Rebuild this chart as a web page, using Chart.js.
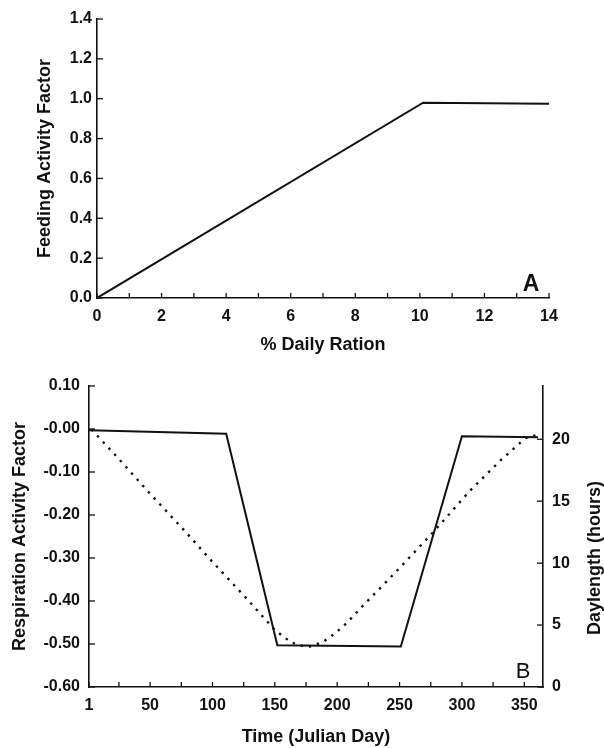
<!DOCTYPE html>
<html>
<head>
<meta charset="utf-8">
<script src="https://cdn.jsdelivr.net/npm/chart.js@4.4.1/dist/chart.umd.min.js"></script>
<style>
  html, body { margin: 0; padding: 0; background: #fff; }
  .panel { position: absolute; left: 0; width: 604px; }
  #panelA { top: 0; height: 360px; }
  #panelB { top: 360px; height: 388px; }
</style>
</head>
<body>
<div class="panel" id="panelA"><canvas id="feedChart"></canvas></div>
<div class="panel" id="panelB"><canvas id="respChart"></canvas></div>
<script>
// panel A: feeding activity vs ration
const rationPct = [0, 10.1, 14];
const feedingFactor = [0, 0.98, 0.975];
const rationTicks = [0, 1, 2, 3, 4, 5, 6, 7, 8, 9, 10, 11, 12, 13, 14];
const feedTicks = [0, 0.2, 0.4, 0.6, 0.8, 1.0, 1.2, 1.4];

// panel B: respiration activity + daylength over the year
const respDays = [1, 111, 152, 251, 300, 361];
const respFactor = [-0.003, -0.011, -0.503, -0.506, -0.017, -0.019];
const dayLenDays = [3, 25, 50, 75, 100, 125, 150, 163, 176, 188, 198, 208, 220, 250, 277, 306, 331, 351, 362];
const dayLenHours = [20.8, 18.4, 15.6, 12.9, 10.1, 7.4, 4.6, 3.6, 3.2, 3.6, 4.3, 5.2, 6.5, 9.6, 12.5, 15.8, 18.3, 20.1, 20.4];
const dayTicks = [1, 25, 50, 75, 100, 125, 150, 175, 200, 225, 250, 275, 300, 325, 350];
const respTicks = [-0.6, -0.5, -0.4, -0.3, -0.2, -0.1, 0, 0.1];
const hourTicks = [0, 5, 10, 15, 20];

const ink = '#111';
const fontFam = "'Liberation Sans', Arial, sans-serif";
Chart.defaults.font.family = fontFam;
Chart.defaults.color = ink;

// ticks drawn inward + panel letter + extra rotated title
const frame = {
  id: 'frame',
  afterDraw(chart, args, opts) {
    const {ctx, chartArea: a} = chart;
    ctx.save();
    ctx.strokeStyle = ink;
    ctx.lineWidth = 1.3;
    Object.values(chart.scales).forEach(s => {
      const len = opts.tickLen[s.id];
      if (!len) return;
      s.ticks.forEach(t => {
        const p = s.getPixelForValue(t.value);
        ctx.beginPath();
        if (s.position === 'bottom') { ctx.moveTo(p, a.bottom); ctx.lineTo(p, a.bottom - len); }
        else if (s.position === 'left') { ctx.moveTo(a.left, p); ctx.lineTo(a.left + len, p); }
        else { ctx.moveTo(a.right, p); ctx.lineTo(a.right - len, p); }
        ctx.stroke();
      });
    });
    ctx.fillStyle = ink;
    ctx.textAlign = 'center';
    ctx.textBaseline = 'middle';
    if (opts.letter) {
      ctx.font = opts.letter.font;
      ctx.fillText(opts.letter.text, opts.letter.x, opts.letter.y);
    }
    if (opts.sideTitle) {
      ctx.translate(opts.sideTitle.x, opts.sideTitle.y);
      ctx.rotate(-Math.PI / 2);
      ctx.font = 'bold 18px ' + fontFam;
      ctx.fillText(opts.sideTitle.text, 0, 0);
    }
    ctx.restore();
  }
};

const pts = (xs, ys) => xs.map((x, i) => ({x: x, y: ys[i]}));
const useTicks = arr => (s => { s.ticks = arr.map(v => ({value: v})); });
const axisLine = {display: true, color: ink, width: 1.6};
const noGrid = {display: true, drawOnChartArea: false, drawTicks: false};
const tickFont = {size: 16, weight: 'bold'};
const titleFont = {size: 18, weight: 'bold'};

new Chart(document.getElementById('feedChart'), {
  type: 'line',
  data: {
    datasets: [{
      data: pts(rationPct, feedingFactor),
      borderColor: ink, borderWidth: 2, pointRadius: 0, tension: 0, fill: false
    }]
  },
  options: {
    responsive: true,
    maintainAspectRatio: false,
    animation: false,
    layout: {padding: {left: 30, top: 19, right: 55, bottom: 0}},
    plugins: {
      legend: {display: false},
      tooltip: {enabled: false},
      frame: {
        tickLen: {x: 5, y: 6},
        letter: {text: 'A', x: 531, y: 285, font: 'bold 23px ' + fontFam}
      }
    },
    scales: {
      x: {
        type: 'linear', min: 0, max: 14,
        afterBuildTicks: useTicks(rationTicks),
        afterFit: s => { s.height = 62; },
        grid: noGrid, border: axisLine,
        ticks: {autoSkip: false, maxRotation: 0, padding: 9, font: tickFont,
          callback: v => (v % 2 === 0 ? String(v) : '')},
        title: {display: true, text: '% Daily Ration', font: titleFont, padding: {top: 4, bottom: 4}}
      },
      y: {
        type: 'linear', min: 0, max: 1.4,
        afterBuildTicks: useTicks(feedTicks),
        afterFit: s => { s.width = 67; },
        grid: noGrid, border: axisLine,
        ticks: {padding: 5, font: tickFont, callback: v => v.toFixed(1)},
        title: {display: true, text: 'Feeding Activity Factor', font: titleFont, padding: {top: 4, bottom: 4}}
      }
    }
  },
  plugins: [frame]
});

new Chart(document.getElementById('respChart'), {
  type: 'line',
  data: {
    datasets: [{
      data: pts(respDays, respFactor),
      yAxisID: 'y',
      borderColor: ink, borderWidth: 2, pointRadius: 0, tension: 0, fill: false
    }, {
      data: pts(dayLenDays, dayLenHours),
      yAxisID: 'y2',
      borderColor: ink, borderWidth: 2.4, borderDash: [2.4, 6], pointRadius: 0, tension: 0, fill: false
    }]
  },
  options: {
    responsive: true,
    maintainAspectRatio: false,
    animation: false,
    layout: {padding: {left: 5, top: 26, right: 21, bottom: 0}},
    plugins: {
      legend: {display: false},
      tooltip: {enabled: false},
      frame: {
        tickLen: {x: 5, y: 6, y2: 6},
        letter: {text: 'B', x: 523, y: 312, font: '22px ' + fontFam},
        sideTitle: {text: 'Daylength (hours)', x: 595, y: 198}
      }
    },
    scales: {
      x: {
        type: 'linear', min: 1, max: 365,
        afterBuildTicks: useTicks(dayTicks),
        afterFit: s => { s.height = 61; },
        grid: noGrid, border: axisLine,
        ticks: {autoSkip: false, maxRotation: 0, padding: 9, font: tickFont,
          callback: v => (v === 1 || v % 50 === 0 ? String(v) : '')},
        title: {display: true, text: 'Time (Julian Day)', font: titleFont, padding: {top: 4, bottom: 0}}
      },
      y: {
        type: 'linear', position: 'left', min: -0.6, max: 0.1,
        afterBuildTicks: useTicks(respTicks),
        afterFit: s => { s.width = 84; },
        grid: noGrid, border: axisLine,
        ticks: {padding: 9, font: tickFont, callback: v => {
          const r = Math.round(v * 100) / 100;
          return r === 0 ? '-0.00' : r.toFixed(2);
        }},
        title: {display: true, text: 'Respiration Activity Factor', font: titleFont, padding: {top: 4, bottom: 4}}
      },
      y2: {
        type: 'linear', position: 'right', min: 0, max: 24.3,
        afterBuildTicks: useTicks(hourTicks),
        afterFit: s => { s.width = 40; },
        grid: noGrid, border: axisLine,
        ticks: {padding: 9, font: tickFont}
      }
    }
  },
  plugins: [frame]
});
</script>
</body>
</html>
